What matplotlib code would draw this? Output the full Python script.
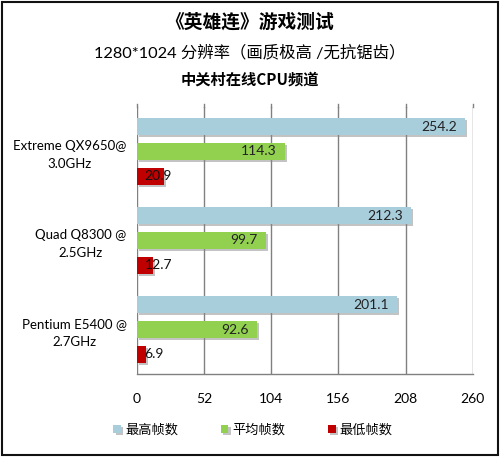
import matplotlib
matplotlib.use("Agg")
import matplotlib.pyplot as plt
import matplotlib.patheffects as pe
from matplotlib.patches import Rectangle
import numpy as np

plt.rcParams['font.family'] = ['Lato', 'Noto Sans CJK SC', 'DejaVu Sans']

categories = ["Extreme QX9650@\n3.0GHz", "Quad Q8300 @\n2.5GHz", "Pentium E5400 @\n2.7GHz"]
series_names = ["最高帧数", "平均帧数", "最低帧数"]
max_fps = [254.2, 212.3, 201.1]
avg_fps = [114.3, 99.7, 92.6]
min_fps = [20.9, 12.7, 6.9]
xticks = [0, 52, 104, 156, 208, 260]

colors = ["#A8CEDC", "#92D050", "#C00000"]

fig = plt.figure(figsize=(5.0, 4.57), dpi=100)
ax = fig.add_axes([0.274, 0.1816, 0.6714, 0.5843])

n = len(categories)
y = np.arange(n)
bar_h = 0.19
step = 0.28
series = [max_fps, avg_fps, min_fps]
shadow = [pe.SimplePatchShadow(offset=(1.5, -1.5), shadow_rgbFace='#888888', alpha=0.5), pe.Normal()]

for i, (vals, col, name) in enumerate(zip(series, colors, series_names)):
    pos = y + (i - 1) * step
    bars = ax.barh(pos, vals, height=bar_h, color=col, label=name, zorder=3)
    for b in bars:
        b.set_path_effects(shadow)
    for p, v in zip(pos, vals):
        if v > 40:
            ax.text(v - 6, p, f"{v:.1f}", ha='right', va='center', fontsize=10, color='#222222', zorder=5)
        else:
            ax.text(6.0, p, f"{v:.1f}", ha='left', va='center', fontsize=10, color='#111111', zorder=5)

ax.set_xlim(0, 260)
ax.set_ylim(n - 0.5, -0.5)
ax.set_xticks(xticks)
ax.set_xticklabels([str(t) for t in xticks], fontsize=10)
ax.set_yticks(y)
ax.set_yticklabels(categories, fontsize=9.5, linespacing=1.55)
for lbl in ax.get_yticklabels():
    lbl.set_multialignment('center')
ax.tick_params(axis='x', length=0, pad=14)
ax.tick_params(axis='y', length=0, pad=7.5)
ax.grid(axis='x', color='#808080', linewidth=1.0, zorder=0)
ax.set_axisbelow(True)
for s in ['top', 'left', 'right']:
    ax.spines[s].set_visible(False)
ax.spines['bottom'].set_color('#808080')
ax.spines['bottom'].set_linewidth(1.0)
# gridlines extend slightly above the plot
for t in xticks:
    ax.plot([t, t], [-0.5, -0.535], color='#808080', linewidth=1.0, clip_on=False, zorder=0)

fig.text(0.5, 0.952, "《英雄连》游戏测试", ha='center', va='center', fontsize=13.5, fontweight='bold',
         family=['Noto Sans CJK SC'])
fig.text(0.5, 0.886, "1280*1024 分辨率（画质极高 /无抗锯齿）", ha='center', va='center', fontsize=11.8)
fig.text(0.5, 0.827, "中关村在线CPU频道", ha='center', va='center', fontsize=11, fontweight='bold',
         family=['Noto Sans CJK SC'])

leg = fig.legend(loc='center', bbox_to_anchor=(0.506, 0.061), ncol=3, frameon=False, fontsize=9.5,
                 handlelength=0.6, handleheight=0.6, handletextpad=0.3, columnspacing=3.2)

fig.patches.append(Rectangle((0.004, 0.004), 0.992, 0.992, transform=fig.transFigure,
                             fill=False, edgecolor='#111111', linewidth=1.5))

fig.savefig("out.png", dpi=100)
